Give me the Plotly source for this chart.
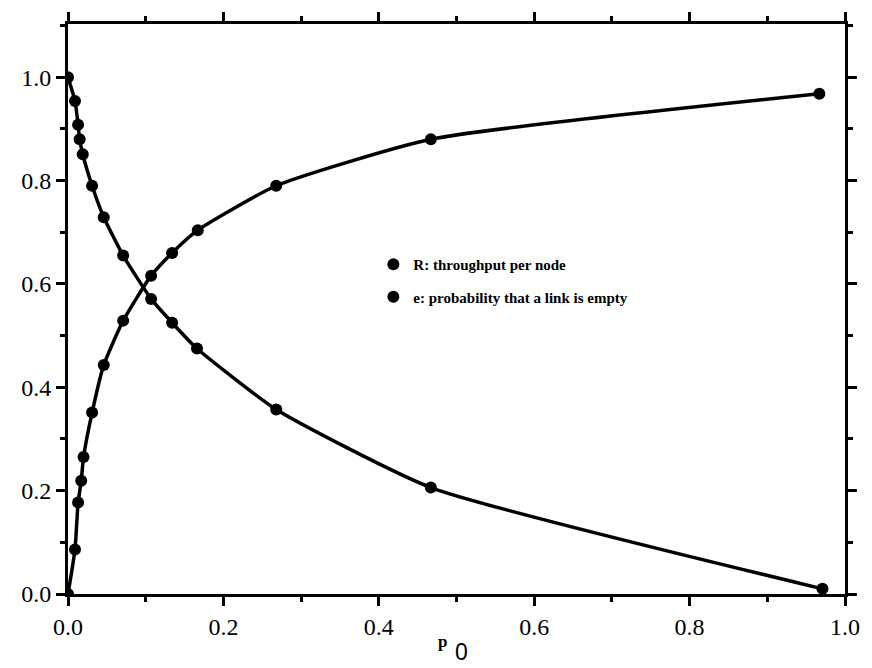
import plotly.graph_objects as go

p0_e = [0.0, 0.009, 0.013, 0.015, 0.019, 0.031, 0.046, 0.071, 0.107, 0.134, 0.166, 0.268, 0.467, 0.971]
e_vals = [1.0, 0.954, 0.908, 0.880, 0.851, 0.790, 0.729, 0.655, 0.571, 0.525, 0.475, 0.357, 0.206, 0.010]

p0_R = [0.0, 0.009, 0.013, 0.017, 0.020, 0.031, 0.046, 0.071, 0.107, 0.134, 0.167, 0.268, 0.467, 0.967]
R_vals = [0.0, 0.086, 0.177, 0.219, 0.265, 0.351, 0.443, 0.529, 0.616, 0.660, 0.704, 0.790, 0.880, 0.968]

x_ticks = [0.0, 0.2, 0.4, 0.6, 0.8, 1.0]
y_ticks = [0.0, 0.2, 0.4, 0.6, 0.8, 1.0]

fig = go.Figure()
fig.add_trace(go.Scatter(x=p0_R, y=R_vals, mode="lines", line=dict(color="black", width=3.5, shape="spline", smoothing=0.5), showlegend=False))
fig.add_trace(go.Scatter(x=p0_e, y=e_vals, mode="lines", line=dict(color="black", width=3.5, shape="spline", smoothing=0.5), showlegend=False))
fig.add_trace(go.Scatter(x=p0_R, y=R_vals, mode="markers", marker=dict(color="black", size=12, symbol="circle"),
                         name="R: throughput per node", legendgroup="R"))
fig.add_trace(go.Scatter(x=p0_e, y=e_vals, mode="markers", marker=dict(color="black", size=12, symbol="circle"),
                         name="e: probability that a link is empty", legendgroup="e"))

axis_common = dict(
    showline=True, linecolor="black", linewidth=3, mirror="ticks",
    ticks="outside", ticklen=9, tickwidth=3, tickcolor="black",
    showgrid=False, zeroline=False,
    tickfont=dict(family="Liberation Serif", size=24, color="black"),
    minor=dict(ticks="outside", ticklen=5, tickwidth=3, tickcolor="black", dtick=0.1),
)
fig.update_xaxes(range=[0, 1.0], tickvals=x_ticks, ticktext=[f"{v:.1f}" for v in x_ticks], **axis_common)
fig.update_yaxes(range=[0, 1.103], tickvals=y_ticks, ticktext=[f"{v:.1f}" for v in y_ticks], **axis_common)

fig.add_annotation(x=0.482, y=-0.083, xref="paper", yref="paper", text="p", showarrow=False,
                   font=dict(family="Liberation Serif", size=17, color="black", weight="bold"), xanchor="center", yanchor="middle")
fig.add_annotation(x=0.506, y=-0.102, xref="paper", yref="paper", text="0", showarrow=False,
                   font=dict(family="Liberation Sans", size=23, color="black"), xanchor="center", yanchor="middle")

fig.update_layout(
    width=872, height=668,
    margin=dict(l=68, r=20, t=16, b=74),
    paper_bgcolor="white", plot_bgcolor="white",
    legend=dict(x=0.393, y=0.607, xanchor="left", yanchor="top", bgcolor="rgba(0,0,0,0)",
                font=dict(family="Liberation Serif", size=15, color="black", weight="bold"),
                itemwidth=30, tracegroupgap=10),
)
fig.write_html("out.html")
